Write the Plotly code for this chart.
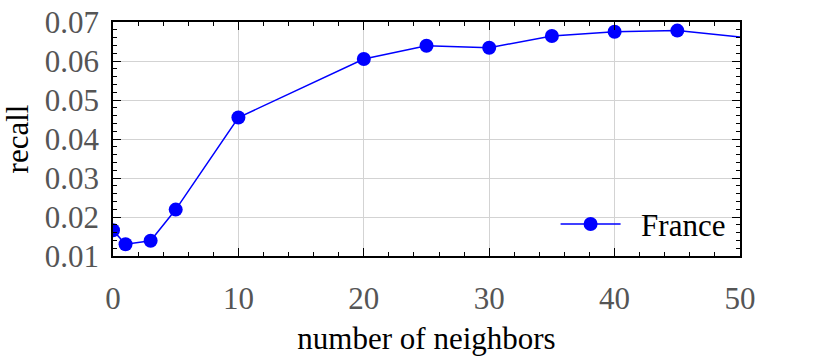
import plotly.graph_objects as go

# data
neighbors = [0, 1, 3, 5, 10, 20, 25, 30, 35, 40, 45, 60]
recall_france = [0.0166, 0.0130, 0.0139, 0.0219, 0.0455, 0.0605, 0.0639, 0.0634, 0.0664, 0.0675, 0.0678, 0.0628]

x_ticks = [0, 10, 20, 30, 40, 50]
y_ticks = [0.01, 0.02, 0.03, 0.04, 0.05, 0.06, 0.07]

BLUE = "#0000FF"
FONT = "Liberation Serif"
TICK_COLOR = "#555555"
GRID_COLOR = "#D3D3D3"

fig = go.Figure()

fig.add_trace(go.Scatter(
    x=neighbors, y=recall_france,
    mode="lines+markers",
    name="&nbsp;&nbsp;France",
    line=dict(color=BLUE, width=1.5),
    marker=dict(color=BLUE, size=14),
    cliponaxis=True,
))

axis_common = dict(
    showline=True, linecolor="black", linewidth=1.6, mirror="allticks",
    ticks="inside", ticklen=8, tickwidth=1.3, tickcolor="black",
    showgrid=True, gridcolor=GRID_COLOR, gridwidth=1,
    zeroline=False, automargin=False,
    tickfont=dict(family=FONT, size=31, color=TICK_COLOR),
)

fig.update_layout(
    width=830, height=358,
    margin=dict(l=113, r=90, t=22, b=102),
    paper_bgcolor="white",
    plot_bgcolor="white",
    font=dict(family=FONT, color="black"),
    xaxis=dict(
        range=[0, 50], tickvals=x_ticks,
        minor=dict(ticks="inside", ticklen=4, tickwidth=1.2, tickcolor="black", dtick=2, tick0=0, showgrid=False),
        title=dict(text="number of neighbors", font=dict(family=FONT, size=31), standoff=12),
        ticklabelstandoff=14,
        **axis_common,
    ),
    yaxis=dict(
        range=[0.01, 0.07], tickvals=y_ticks, tickformat=".2f",
        minor=dict(ticks="inside", ticklen=4, tickwidth=1.2, tickcolor="black", dtick=0.002, tick0=0.01, showgrid=False),
        title=dict(text="recall", font=dict(family=FONT, size=31), standoff=8),
        ticklabelstandoff=6,
        **axis_common,
    ),
    showlegend=True,
    legend=dict(
        x=0.985, y=0.02, xanchor="right", yanchor="bottom",
        bgcolor="rgba(0,0,0,0)", borderwidth=0,
        font=dict(family=FONT, size=31, color="black"),
        itemwidth=60,
    ),
)

# drop the default page margin so the figure sits at the window corner
fig.write_html("out.html", config={"displayModeBar": False},
               post_script="document.body.style.margin='0';")
